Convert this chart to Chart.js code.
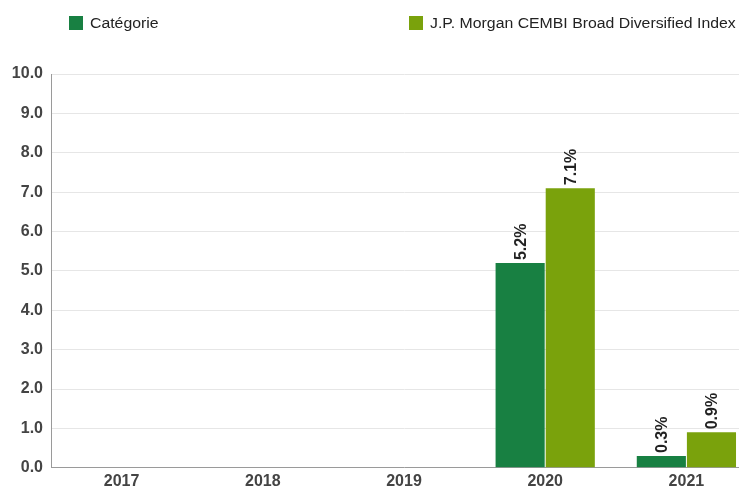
<!DOCTYPE html>
<html>
<head>
<meta charset="utf-8">
<script src="https://cdn.jsdelivr.net/npm/chart.js@4/dist/chart.umd.min.js"></script>
<style>
  html, body { margin: 0; padding: 0; background: #fff; overflow: hidden; width: 739px; height: 491px; }
  #wrap { position: absolute; left: 0; top: 0; width: 758px; height: 495px; }
  .leg { position: absolute; top: 15px; font-family: "Liberation Sans", Arial, sans-serif; font-size: 14px; color: #222; line-height: 16px; white-space: nowrap; }
  .leg span.box { position: absolute; left: 0; top: 1px; width: 14px; height: 14px; }
  .leg span.txt { position: absolute; left: 21px; top: 0; transform: scaleX(1.13); transform-origin: 0 50%; }
</style>
</head>
<body>
<div id="wrap"><canvas id="c" width="758" height="495"></canvas></div>
<div class="leg" id="leg0" style="left:69px;"><span class="box"></span><span class="txt"></span></div>
<div class="leg" id="leg1" style="left:409px;"><span class="box"></span><span class="txt"></span></div>
<script>
const years = ["2017", "2018", "2019", "2020", "2021"];
const categorieValues = [null, null, null, 5.2, 0.3];
const indexValues = [null, null, null, 7.1, 0.9];
const seriesNames = ["Catégorie", "J.P. Morgan CEMBI Broad Diversified Index"];
const seriesColors = ["#188042", "#7aa20c"];
const yTicks = [0, 1, 2, 3, 4, 5, 6, 7, 8, 9, 10];

["leg0", "leg1"].forEach((id, i) => {
  const el = document.getElementById(id);
  el.querySelector(".box").style.background = seriesColors[i];
  el.querySelector(".txt").textContent = seriesNames[i];
});

const barLabels = {
  id: "barLabels",
  afterDatasetsDraw(chart) {
    const ctx = chart.ctx;
    ctx.save();
    ctx.font = "bold 16px 'Liberation Sans', Arial, sans-serif";
    ctx.fillStyle = "#222";
    ctx.textAlign = "left";
    ctx.textBaseline = "middle";
    chart.data.datasets.forEach((ds, di) => {
      const meta = chart.getDatasetMeta(di);
      meta.data.forEach((bar, i) => {
        const v = ds.data[i];
        if (v === null || v === undefined) return;
        ctx.save();
        ctx.translate(bar.x + 1, bar.y - 3);
        ctx.rotate(-Math.PI / 2);
        ctx.fillText(v.toFixed(1) + "%", 0, 0);
        ctx.restore();
      });
    });
    ctx.restore();
  }
};

new Chart(document.getElementById("c"), {
  type: "bar",
  data: {
    labels: years,
    datasets: [
      { label: seriesNames[0], data: categorieValues, backgroundColor: seriesColors[0] },
      { label: seriesNames[1], data: indexValues, backgroundColor: seriesColors[1] }
    ]
  },
  options: {
    responsive: false,
    animation: false,
    devicePixelRatio: 1,
    categoryPercentage: 0.71,
    barPercentage: 0.98,
    layout: { padding: { top: 74, left: 0, right: 1, bottom: 0 } },
    plugins: { legend: { display: false }, tooltip: { enabled: false } },
    scales: {
      x: {
        grid: { display: true, color: "rgba(0,0,0,0)", drawTicks: false },
        border: { display: true, color: "#9a9a9a", width: 1 },
        ticks: {
          padding: 4,
          color: "#444",
          font: { family: "'Liberation Sans', Arial, sans-serif", size: 16, weight: "bold" }
        }
      },
      y: {
        min: 0,
        max: 10,
        afterFit(scale) { scale.width = 51; },
        afterBuildTicks(scale) { scale.ticks = yTicks.map(v => ({ value: v })); },
        grid: { color: "#e6e6e6", drawTicks: false },
        border: { display: true, color: "#9a9a9a", width: 1 },
        ticks: {
          padding: 8,
          color: "#444",
          font: { family: "'Liberation Sans', Arial, sans-serif", size: 16, weight: "bold" },
          callback: (v) => Number(v).toFixed(1)
        }
      }
    }
  },
  plugins: [barLabels]
});
</script>
</body>
</html>
